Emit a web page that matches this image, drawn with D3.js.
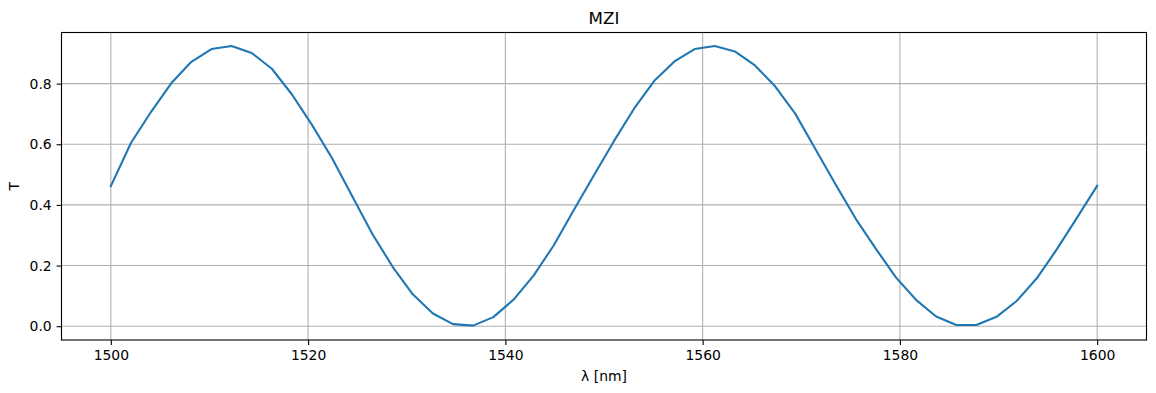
<!DOCTYPE html>
<html>
<head>
<meta charset="utf-8">
<script src="https://cdn.jsdelivr.net/npm/d3@7"></script>
<style>
  body { margin: 0; background: #fff; }
  svg { display: block; font-family: "DejaVu Sans", sans-serif; }
</style>
</head>
<body>
<svg id="chart" width="1156" height="393"></svg>
<script>
// wavelength samples: 50 points from 1500 to 1600 nm
let lambdaStart = 1500, lambdaEnd = 1600, nPoints = 50;
// transmission, one per sample
let transmission = [
  0.462, 0.604, 0.707, 0.801, 0.872, 0.914, 0.924, 0.901, 0.849, 0.764,
  0.663, 0.553, 0.428, 0.303, 0.196, 0.105, 0.042, 0.007, 0.002, 0.030,
  0.087, 0.167, 0.266, 0.383, 0.498, 0.611, 0.718, 0.809, 0.873, 0.914,
  0.924, 0.906, 0.860, 0.791, 0.701, 0.584, 0.468, 0.355, 0.256, 0.161,
  0.087, 0.032, 0.004, 0.004, 0.031, 0.083, 0.158, 0.254, 0.358, 0.463
];
let xTicks = [1500, 1520, 1540, 1560, 1580, 1600];
let yTicks = [0.0, 0.2, 0.4, 0.6, 0.8];

let data = transmission.map(function(t, i) {
  return { lam: lambdaStart + i * (lambdaEnd - lambdaStart) / (nPoints - 1), t: t };
});

let svg = d3.select("svg"),
  margin = {top: 32.5, right: 9.5, bottom: 53, left: 61.5},
  width = +svg.attr("width") - margin.left - margin.right,
  height = +svg.attr("height") - margin.top - margin.bottom;

let x = d3.scaleLinear().domain([1495, 1605]).range([0, width]),
  y = d3.scaleLinear().domain([-0.0455, 0.9685]).range([height, 0]);

let g = svg.append("g")
  .attr("transform", "translate(" + margin.left + "," + margin.top + ")");

// grid
g.append("g").selectAll("line")
  .data(xTicks)
  .enter().append("line")
  .attr("x1", function(d) { return x(d); })
  .attr("x2", function(d) { return x(d); })
  .attr("y1", 0).attr("y2", height)
  .attr("stroke", "#b0b0b0").attr("stroke-width", 1.1);

g.append("g").selectAll("line")
  .data(yTicks)
  .enter().append("line")
  .attr("y1", function(d) { return y(d); })
  .attr("y2", function(d) { return y(d); })
  .attr("x1", 0).attr("x2", width)
  .attr("stroke", "#b0b0b0").attr("stroke-width", 1.1);

// axes
let xAxis = g.append("g")
  .attr("transform", "translate(0," + height + ")")
  .call(d3.axisBottom(x).tickValues(xTicks).tickSize(4.9).tickPadding(4.9).tickFormat(d3.format("d")));

let yAxis = g.append("g")
  .call(d3.axisLeft(y).tickValues(yTicks).tickSize(4.9).tickPadding(4.9).tickFormat(d3.format(".1f")));

[xAxis, yAxis].forEach(function(a) {
  a.select(".domain").remove();
  a.selectAll("line").attr("stroke", "#000").attr("stroke-width", 1.1);
  a.selectAll("text").attr("font-size", "13.9px").attr("fill", "#000")
    .attr("font-family", "DejaVu Sans, sans-serif");
});

// curve
let line = d3.line()
  .x(function(d) { return x(d.lam); })
  .y(function(d) { return y(d.t); });

g.append("path")
  .datum(data)
  .attr("fill", "none")
  .attr("stroke", "#1f77b4")
  .attr("stroke-width", 2.1)
  .attr("stroke-linejoin", "round")
  .attr("stroke-linecap", "square")
  .attr("d", line);

// frame
g.append("rect")
  .attr("width", width).attr("height", height)
  .attr("fill", "none").attr("stroke", "#000").attr("stroke-width", 1.1);

// labels
svg.append("text")
  .attr("x", margin.left + width / 2).attr("y", 24)
  .attr("text-anchor", "middle")
  .attr("font-size", "16.7px")
  .text("MZI");

svg.append("text")
  .attr("x", margin.left + width / 2).attr("y", 381)
  .attr("text-anchor", "middle")
  .attr("font-size", "13.9px")
  .text("λ [nm]");

svg.append("text")
  .attr("transform", "translate(19," + (margin.top + height / 2) + ") rotate(-90)")
  .attr("text-anchor", "middle")
  .attr("font-size", "13.9px")
  .text("T");
</script>
</body>
</html>
